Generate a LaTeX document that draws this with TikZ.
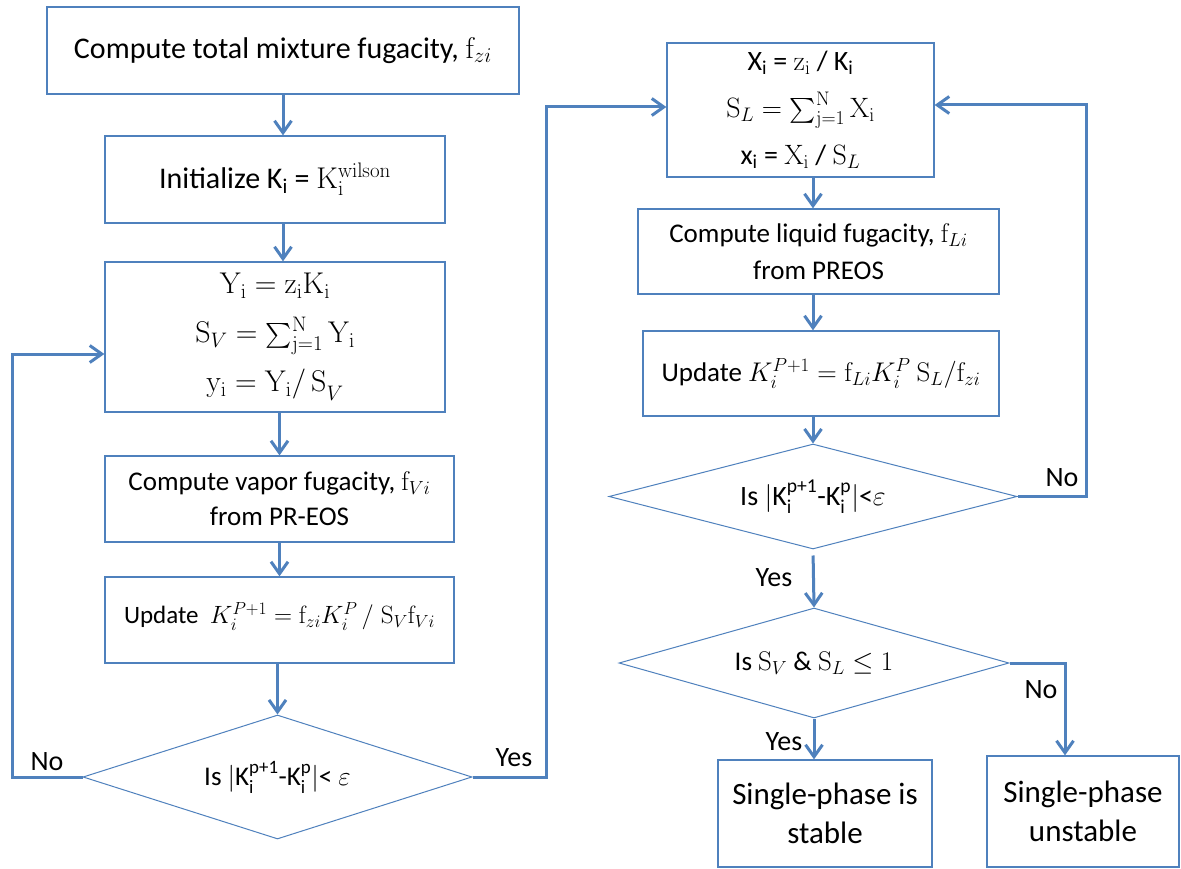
\RequirePackage{fix-cm}
\documentclass[tikz,border=0pt]{standalone}
\usepackage{amsmath}
\usepackage[no-math]{fontspec}
\setmainfont{Carlito}
\usetikzlibrary{shapes.geometric,arrows.meta}
\definecolor{bl}{RGB}{79,129,189}
\begin{document}
\begin{tikzpicture}[x=1pt,y=-1pt,
  box/.style={draw=bl, line width=1.3pt, fill=white, inner sep=2pt, align=center},
  dia/.style={draw=bl, line width=1pt, diamond, shape aspect=3, inner sep=0pt, align=center},
  arr/.style={draw=bl, line width=3pt, line join=miter, -{Straight Barb[length=12pt,width=17pt]}},
  lbl/.style={inner sep=0pt, font=\fontsize{28}{30}\selectfont},
  fA/.style={font=\fontsize{30}{46}\selectfont},
  fB/.style={font=\fontsize{27}{35}\selectfont},
  fC/.style={font=\fontsize{25}{30}\selectfont}]
\fill[white] (0,0) rectangle (1181,869);
\useasboundingbox (0,0) rectangle (1181,869);

% left column
\node[box, fA, minimum width=472pt, minimum height=87pt] (b1) at (283,50.5)
  {Compute total mixture fugacity, $\mathrm{f}_{zi}$};
\node[box, fA, minimum width=340pt, minimum height=87pt] (b2) at (275,179.5)
  {Initialize K\textsubscript{i} = $\mathrm{K_i^{wilson}}$};
\node[box, font=\fontsize{30}{49}\selectfont, minimum width=340pt, minimum height=150pt] (b3) at (275,337)
  {$\mathrm{Y_i = z_iK_i}$\\ $\mathrm{S}_{V} = \sum_{\mathrm{j=1}}^{\mathrm{N}} \mathrm{Y_i}$\\ $\mathrm{y_i = Y_i/\,S}_{V}$};
\node[box, fB, minimum width=349pt, minimum height=86pt] (b4) at (279.5,499)
  {Compute vapor fugacity, $\mathrm{f}_{Vi}$\\ from PR-EOS};
\node[box, fC, minimum width=349pt, minimum height=86pt] (b5) at (279.5,620)
  {\raisebox{14pt}{Update\ \ $K_i^{P+1} = \mathrm{f}_{zi}K_i^{P}\,/\;\mathrm{S}_V\mathrm{f}_{Vi}$}};
\node[dia, fB, minimum width=389pt, minimum height=124pt] (d1) at (277.5,777)
  {Is $|$K$_{\text{i}}^{\text{p+1}}$-K$_{\text{i}}^{\text{p}}$$|$< $\varepsilon$};

% right column
\node[box, font=\fontsize{28}{47}\selectfont, minimum width=267pt, minimum height=134pt] (xb) at (800.5,110)
  {X\textsubscript{i} = $\mathrm{z_i}$ / K\textsubscript{i}\\ $\mathrm{S}_{L} = \sum_{\mathrm{j=1}}^{\mathrm{N}} \mathrm{X_i}$\\ x\textsubscript{i} = $\mathrm{X_i}$ / $\mathrm{S}_L$};
\node[box, font=\fontsize{27}{37}\selectfont, minimum width=361pt, minimum height=85pt] (liq) at (818.5,251.5)
  {Compute liquid fugacity, $\mathrm{f}_{Li}$\\ from PREOS};
\node[box, fB, minimum width=356pt, minimum height=85pt] (up2) at (821,373.5)
  {Update $K_i^{P+1} = \mathrm{f}_{Li}K_i^{P}\ \mathrm{S}_L/\mathrm{f}_{zi}$};
\node[dia, font=\fontsize{28}{35}\selectfont, minimum width=408pt, minimum height=105pt] (d2) at (813,496.5)
  {Is $|$K$_{\text{i}}^{\text{p+1}}$-K$_{\text{i}}^{\text{p}}$$|$<$\varepsilon$};
\node[dia, fB, minimum width=390pt, minimum height=110pt] (d3) at (814,663)
  {Is $\mathrm{S}_V$ \& $\mathrm{S}_L \leq 1$};
\node[box, font=\fontsize{31}{39}\selectfont, minimum width=214pt, minimum height=107pt] (st) at (825,813.5)
  {Single-phase is\\ stable};
\node[box, font=\fontsize{31}{39}\selectfont, minimum width=192pt, minimum height=111pt] (un) at (1083,811.5)
  {Single-phase\\ unstable};

% labels
\node[lbl] (no1) at (47,762) {No};
\node[lbl] (yes1) at (514,758) {Yes};
\node[lbl] (no2) at (1062,478) {No};
\node[lbl] (yes2) at (774,578) {Yes};
\node[lbl] (yes3) at (784,742) {Yes};
\node[lbl] (no3) at (1041,690) {No};

% connectors
\coordinate (c1) at (12,777);
\coordinate (c2) at (546,777);
\coordinate (c3) at (1086,496.5);
\coordinate (c4) at (1065,663);
\draw[arr] (b1.south) -- (b1.south |- b2.north);
\draw[arr] (b2.south -| b1.south) -- (b3.north -| b1.south);
\draw[arr] (b3.south -| b4.north) -- (b4.north);
\draw[arr] (b4.south) -- (b5.north);
\draw[arr] (b5.south -| d1.north) -- (d1.north);
\draw[arr] (d1.west) -- (c1) |- ([yshift=-17pt]b3.west);
\draw[arr] (d1.east) -- (c2) |- ([yshift=3pt]xb.west);
\draw[arr] (xb.south -| d2.north) -- (liq.north -| d2.north);
\draw[arr] (liq.south -| d2.north) -- (up2.north -| d2.north);
\draw[arr] (up2.south -| d2.north) -- (d2.north);
\draw[arr] (d2.east) -- (c3) |- ([yshift=5pt]xb.east);
\draw[arr, shorten <=6pt] (d2.south) -- (d3.north);
\draw[arr] (d3.south) -- (d3.south |- st.north);
\draw[arr] (d3.east) -- (c4) -- (c4 |- un.north);
\end{tikzpicture}
\end{document}
